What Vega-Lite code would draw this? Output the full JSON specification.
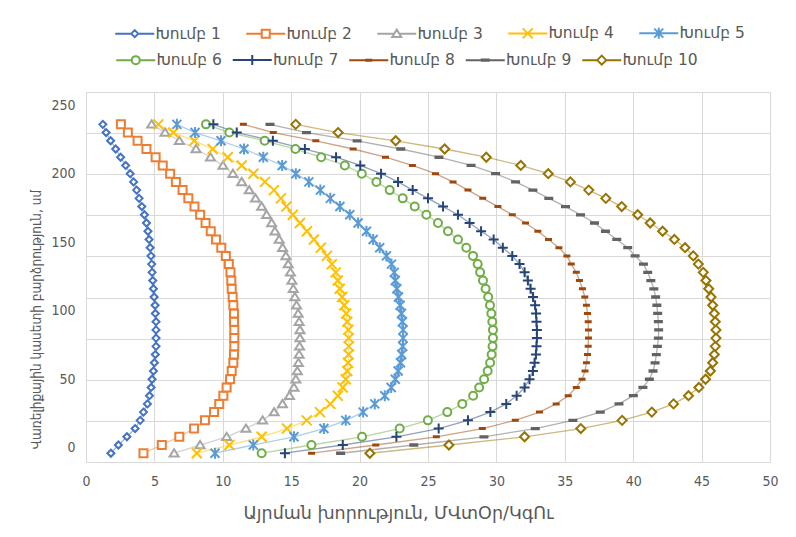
{
  "$schema": "https://vega.github.io/schema/vega-lite/v6.json",
  "width": 684,
  "height": 370,
  "autosize": {"type": "none"},
  "padding": {"left": 86, "top": 92, "right": 26, "bottom": 75},
  "background": "white",
  "config": {
    "view": {"stroke": null},
    "axis": {"labelColor": "#595959", "titleColor": "#595959", "gridColor": "#D9D9D9", "gridWidth": 1, "labelFont": "Liberation Sans Narrow, DejaVu Sans Condensed, sans-serif", "labelFontSize": 14, "titleFont": "DejaVu Sans, sans-serif", "titleFontWeight": "normal"}
  },
  "data": {"values": [
{"g":"Խումբ 1","d":-4,"x":1.82},{"g":"Խումբ 1","d":2,"x":2.37},{"g":"Խումբ 1","d":8,"x":2.99},{"g":"Խումբ 1","d":14,"x":3.59},{"g":"Խումբ 1","d":20,"x":3.96},{"g":"Խումբ 1","d":26,"x":4.2},{"g":"Խումբ 1","d":32,"x":4.49},{"g":"Խումբ 1","d":38,"x":4.64},{"g":"Խումբ 1","d":44,"x":4.76},{"g":"Խումբ 1","d":50,"x":4.83},{"g":"Խումբ 1","d":56,"x":4.93},{"g":"Խումբ 1","d":62,"x":5.0},{"g":"Խումբ 1","d":68,"x":5.07},{"g":"Խումբ 1","d":74,"x":5.12},{"g":"Խումբ 1","d":80,"x":5.12},{"g":"Խումբ 1","d":86,"x":5.12},{"g":"Խումբ 1","d":92,"x":5.12},{"g":"Խումբ 1","d":98,"x":5.07},{"g":"Խումբ 1","d":104,"x":5.05},{"g":"Խումբ 1","d":110,"x":4.98},{"g":"Խումբ 1","d":116,"x":4.93},{"g":"Խումբ 1","d":122,"x":4.88},{"g":"Խումբ 1","d":128,"x":4.83},{"g":"Խումբ 1","d":134,"x":4.8},{"g":"Խումբ 1","d":140,"x":4.75},{"g":"Խումբ 1","d":146,"x":4.69},{"g":"Խումբ 1","d":152,"x":4.61},{"g":"Խումբ 1","d":158,"x":4.53},{"g":"Խումբ 1","d":164,"x":4.42},{"g":"Խումբ 1","d":170,"x":4.27},{"g":"Խումբ 1","d":176,"x":4.08},{"g":"Խումբ 1","d":182,"x":3.88},{"g":"Խումբ 1","d":188,"x":3.7},{"g":"Խումբ 1","d":194,"x":3.48},{"g":"Խումբ 1","d":200,"x":3.23},{"g":"Խումբ 1","d":206,"x":2.9},{"g":"Խումբ 1","d":212,"x":2.53},{"g":"Խումբ 1","d":218,"x":2.17},{"g":"Խումբ 1","d":224,"x":1.8},{"g":"Խումբ 1","d":230,"x":1.47},{"g":"Խումբ 1","d":236,"x":1.23},
{"g":"Խումբ 2","d":-4,"x":4.2},{"g":"Խումբ 2","d":2,"x":5.54},{"g":"Խումբ 2","d":8,"x":6.82},{"g":"Խումբ 2","d":14,"x":7.9},{"g":"Խումբ 2","d":20,"x":8.7},{"g":"Խումբ 2","d":26,"x":9.36},{"g":"Խումբ 2","d":32,"x":9.74},{"g":"Խումբ 2","d":38,"x":10.04},{"g":"Խումբ 2","d":44,"x":10.28},{"g":"Խումբ 2","d":50,"x":10.53},{"g":"Խումբ 2","d":56,"x":10.65},{"g":"Խումբ 2","d":62,"x":10.77},{"g":"Խումբ 2","d":68,"x":10.82},{"g":"Խումբ 2","d":74,"x":10.84},{"g":"Խումբ 2","d":80,"x":10.84},{"g":"Խումբ 2","d":86,"x":10.84},{"g":"Խումբ 2","d":92,"x":10.82},{"g":"Խումբ 2","d":98,"x":10.82},{"g":"Խումբ 2","d":104,"x":10.77},{"g":"Խումբ 2","d":110,"x":10.72},{"g":"Խումբ 2","d":116,"x":10.65},{"g":"Խումբ 2","d":122,"x":10.62},{"g":"Խումբ 2","d":128,"x":10.56},{"g":"Խումբ 2","d":134,"x":10.44},{"g":"Խումբ 2","d":140,"x":10.22},{"g":"Խումբ 2","d":146,"x":9.89},{"g":"Խումբ 2","d":152,"x":9.5},{"g":"Խումբ 2","d":158,"x":9.12},{"g":"Խումբ 2","d":164,"x":8.74},{"g":"Խումբ 2","d":170,"x":8.34},{"g":"Խումբ 2","d":176,"x":7.93},{"g":"Խումբ 2","d":182,"x":7.48},{"g":"Խումբ 2","d":188,"x":7.06},{"g":"Խումբ 2","d":194,"x":6.57},{"g":"Խումբ 2","d":200,"x":6.15},{"g":"Խումբ 2","d":206,"x":5.61},{"g":"Խումբ 2","d":212,"x":5.09},{"g":"Խումբ 2","d":218,"x":4.42},{"g":"Խումբ 2","d":224,"x":3.77},{"g":"Խումբ 2","d":230,"x":3.06},{"g":"Խումբ 2","d":236,"x":2.55},
{"g":"Խումբ 3","d":-4,"x":6.44},{"g":"Խումբ 3","d":2,"x":8.34},{"g":"Խումբ 3","d":8,"x":10.28},{"g":"Խումբ 3","d":14,"x":11.69},{"g":"Խումբ 3","d":20,"x":12.91},{"g":"Խումբ 3","d":26,"x":13.75},{"g":"Խումբ 3","d":32,"x":14.36},{"g":"Խումբ 3","d":38,"x":14.87},{"g":"Խումբ 3","d":44,"x":15.2},{"g":"Խումբ 3","d":50,"x":15.34},{"g":"Խումբ 3","d":56,"x":15.45},{"g":"Խումբ 3","d":62,"x":15.53},{"g":"Խումբ 3","d":68,"x":15.58},{"g":"Խումբ 3","d":74,"x":15.61},{"g":"Խումբ 3","d":80,"x":15.64},{"g":"Խումբ 3","d":86,"x":15.64},{"g":"Խումբ 3","d":92,"x":15.58},{"g":"Խումբ 3","d":98,"x":15.51},{"g":"Խումբ 3","d":104,"x":15.39},{"g":"Խումբ 3","d":110,"x":15.27},{"g":"Խումբ 3","d":116,"x":15.15},{"g":"Խումբ 3","d":122,"x":15.05},{"g":"Խումբ 3","d":128,"x":14.94},{"g":"Խումբ 3","d":134,"x":14.78},{"g":"Խումբ 3","d":140,"x":14.61},{"g":"Խումբ 3","d":146,"x":14.37},{"g":"Խումբ 3","d":152,"x":14.12},{"g":"Խումբ 3","d":158,"x":13.81},{"g":"Խումբ 3","d":164,"x":13.57},{"g":"Խումբ 3","d":170,"x":13.2},{"g":"Խումբ 3","d":176,"x":12.84},{"g":"Խումբ 3","d":182,"x":12.39},{"g":"Խումբ 3","d":188,"x":11.93},{"g":"Խումբ 3","d":194,"x":11.38},{"g":"Խումբ 3","d":200,"x":10.74},{"g":"Խումբ 3","d":206,"x":10.01},{"g":"Խումբ 3","d":212,"x":9.1},{"g":"Խումբ 3","d":218,"x":8.04},{"g":"Խումբ 3","d":224,"x":6.82},{"g":"Խումբ 3","d":230,"x":5.78},{"g":"Խումբ 3","d":236,"x":4.8},
{"g":"Խումբ 4","d":-4,"x":8.1},{"g":"Խումբ 4","d":2,"x":10.48},{"g":"Խումբ 4","d":8,"x":12.84},{"g":"Խումբ 4","d":14,"x":14.69},{"g":"Խումբ 4","d":20,"x":16.13},{"g":"Խումբ 4","d":26,"x":17.1},{"g":"Խումբ 4","d":32,"x":17.86},{"g":"Խումբ 4","d":38,"x":18.41},{"g":"Խումբ 4","d":44,"x":18.77},{"g":"Խումբ 4","d":50,"x":18.99},{"g":"Խումբ 4","d":56,"x":19.1},{"g":"Խումբ 4","d":62,"x":19.16},{"g":"Խումբ 4","d":68,"x":19.2},{"g":"Խումբ 4","d":74,"x":19.21},{"g":"Խումբ 4","d":80,"x":19.21},{"g":"Խումբ 4","d":86,"x":19.18},{"g":"Խումբ 4","d":92,"x":19.1},{"g":"Խումբ 4","d":98,"x":19.02},{"g":"Խումբ 4","d":104,"x":18.88},{"g":"Խումբ 4","d":110,"x":18.72},{"g":"Խումբ 4","d":116,"x":18.55},{"g":"Խումբ 4","d":122,"x":18.41},{"g":"Խումբ 4","d":128,"x":18.26},{"g":"Խումբ 4","d":134,"x":17.97},{"g":"Խումբ 4","d":140,"x":17.61},{"g":"Խումբ 4","d":146,"x":17.17},{"g":"Խումբ 4","d":152,"x":16.66},{"g":"Խումբ 4","d":158,"x":16.15},{"g":"Խումբ 4","d":164,"x":15.64},{"g":"Խումբ 4","d":170,"x":15.12},{"g":"Խումբ 4","d":176,"x":14.65},{"g":"Խումբ 4","d":182,"x":14.25},{"g":"Խումբ 4","d":188,"x":13.74},{"g":"Խումբ 4","d":194,"x":13.08},{"g":"Խումբ 4","d":200,"x":12.24},{"g":"Խումբ 4","d":206,"x":11.38},{"g":"Խումբ 4","d":212,"x":10.36},{"g":"Խումբ 4","d":218,"x":9.26},{"g":"Խումբ 4","d":224,"x":7.92},{"g":"Խումբ 4","d":230,"x":6.39},{"g":"Խումբ 4","d":236,"x":5.29},
{"g":"Խումբ 5","d":-4,"x":9.43},{"g":"Խումբ 5","d":2,"x":12.23},{"g":"Խումբ 5","d":8,"x":15.2},{"g":"Խումբ 5","d":14,"x":17.39},{"g":"Խումբ 5","d":20,"x":18.99},{"g":"Խումբ 5","d":26,"x":20.26},{"g":"Խումբ 5","d":32,"x":21.11},{"g":"Խումբ 5","d":38,"x":21.84},{"g":"Խումբ 5","d":44,"x":22.31},{"g":"Խումբ 5","d":50,"x":22.61},{"g":"Խումբ 5","d":56,"x":22.82},{"g":"Խումբ 5","d":62,"x":22.99},{"g":"Խումբ 5","d":68,"x":23.08},{"g":"Խումբ 5","d":74,"x":23.15},{"g":"Խումբ 5","d":80,"x":23.18},{"g":"Խումբ 5","d":86,"x":23.18},{"g":"Խումբ 5","d":92,"x":23.13},{"g":"Խումբ 5","d":98,"x":23.06},{"g":"Խումբ 5","d":104,"x":22.96},{"g":"Խումբ 5","d":110,"x":22.84},{"g":"Խումբ 5","d":116,"x":22.72},{"g":"Խումբ 5","d":122,"x":22.61},{"g":"Խումբ 5","d":128,"x":22.53},{"g":"Խումբ 5","d":134,"x":22.33},{"g":"Խումբ 5","d":140,"x":21.96},{"g":"Խումբ 5","d":146,"x":21.47},{"g":"Խումբ 5","d":152,"x":20.99},{"g":"Խումբ 5","d":158,"x":20.5},{"g":"Խումբ 5","d":164,"x":19.89},{"g":"Խումբ 5","d":170,"x":19.28},{"g":"Խումբ 5","d":176,"x":18.56},{"g":"Խումբ 5","d":182,"x":17.86},{"g":"Խումբ 5","d":188,"x":17.13},{"g":"Խումբ 5","d":194,"x":16.29},{"g":"Խումբ 5","d":200,"x":15.34},{"g":"Խումբ 5","d":206,"x":14.34},{"g":"Խումբ 5","d":212,"x":12.96},{"g":"Խումբ 5","d":218,"x":11.55},{"g":"Խումբ 5","d":224,"x":9.87},{"g":"Խումբ 5","d":230,"x":7.97},{"g":"Խումբ 5","d":236,"x":6.64},
{"g":"Խումբ 6","d":-4,"x":12.84},{"g":"Խումբ 6","d":2,"x":16.48},{"g":"Խումբ 6","d":8,"x":20.18},{"g":"Խումբ 6","d":14,"x":22.93},{"g":"Խումբ 6","d":20,"x":24.99},{"g":"Խումբ 6","d":26,"x":26.41},{"g":"Խումբ 6","d":32,"x":27.51},{"g":"Խումբ 6","d":38,"x":28.3},{"g":"Խումբ 6","d":44,"x":28.74},{"g":"Խումբ 6","d":50,"x":29.1},{"g":"Խումբ 6","d":56,"x":29.36},{"g":"Խումբ 6","d":62,"x":29.54},{"g":"Խումբ 6","d":68,"x":29.65},{"g":"Խումբ 6","d":74,"x":29.72},{"g":"Խումբ 6","d":80,"x":29.75},{"g":"Խումբ 6","d":86,"x":29.75},{"g":"Խումբ 6","d":92,"x":29.7},{"g":"Խումբ 6","d":98,"x":29.63},{"g":"Խումբ 6","d":104,"x":29.53},{"g":"Խումբ 6","d":110,"x":29.4},{"g":"Խումբ 6","d":116,"x":29.21},{"g":"Խումբ 6","d":122,"x":29.02},{"g":"Խումբ 6","d":128,"x":28.81},{"g":"Խումբ 6","d":134,"x":28.63},{"g":"Խումբ 6","d":140,"x":28.29},{"g":"Խումբ 6","d":146,"x":27.8},{"g":"Խումբ 6","d":152,"x":27.19},{"g":"Խումբ 6","d":158,"x":26.46},{"g":"Խումբ 6","d":164,"x":25.73},{"g":"Խումբ 6","d":170,"x":24.88},{"g":"Խումբ 6","d":176,"x":24.03},{"g":"Խումբ 6","d":182,"x":23.15},{"g":"Խումբ 6","d":188,"x":22.2},{"g":"Խումբ 6","d":194,"x":21.23},{"g":"Խումբ 6","d":200,"x":20.16},{"g":"Խումբ 6","d":206,"x":18.92},{"g":"Խումբ 6","d":212,"x":17.19},{"g":"Խումբ 6","d":218,"x":15.31},{"g":"Խումբ 6","d":224,"x":13.06},{"g":"Խումբ 6","d":230,"x":10.48},{"g":"Խումբ 6","d":236,"x":8.77},
{"g":"Խումբ 7","d":-4,"x":14.54},{"g":"Խումբ 7","d":2,"x":18.77},{"g":"Խումբ 7","d":8,"x":22.69},{"g":"Խումբ 7","d":14,"x":25.78},{"g":"Խումբ 7","d":20,"x":27.92},{"g":"Խումբ 7","d":26,"x":29.56},{"g":"Խումբ 7","d":32,"x":30.72},{"g":"Խումբ 7","d":38,"x":31.48},{"g":"Խումբ 7","d":44,"x":32.06},{"g":"Խումբ 7","d":50,"x":32.42},{"g":"Խումբ 7","d":56,"x":32.67},{"g":"Խումբ 7","d":62,"x":32.79},{"g":"Խումբ 7","d":68,"x":32.89},{"g":"Խումբ 7","d":74,"x":32.93},{"g":"Խումբ 7","d":80,"x":32.96},{"g":"Խումբ 7","d":86,"x":32.96},{"g":"Խումբ 7","d":92,"x":32.93},{"g":"Խումբ 7","d":98,"x":32.9},{"g":"Խումբ 7","d":104,"x":32.83},{"g":"Խումբ 7","d":110,"x":32.68},{"g":"Խումբ 7","d":116,"x":32.5},{"g":"Խումբ 7","d":122,"x":32.3},{"g":"Խումբ 7","d":128,"x":32.06},{"g":"Խումբ 7","d":134,"x":31.69},{"g":"Խումբ 7","d":140,"x":31.16},{"g":"Խումբ 7","d":146,"x":30.47},{"g":"Խումբ 7","d":152,"x":29.8},{"g":"Խումբ 7","d":158,"x":28.88},{"g":"Խումբ 7","d":164,"x":28.04},{"g":"Խումբ 7","d":170,"x":27.19},{"g":"Խումբ 7","d":176,"x":26.1},{"g":"Խումբ 7","d":182,"x":25.0},{"g":"Խումբ 7","d":188,"x":23.88},{"g":"Խումբ 7","d":194,"x":22.81},{"g":"Խումբ 7","d":200,"x":21.57},{"g":"Խումբ 7","d":206,"x":20.05},{"g":"Խումբ 7","d":212,"x":18.28},{"g":"Խումբ 7","d":218,"x":16.0},{"g":"Խումբ 7","d":224,"x":13.66},{"g":"Խումբ 7","d":230,"x":11.02},{"g":"Խումբ 7","d":236,"x":9.31},
{"g":"Խումբ 8","d":-4,"x":16.49},{"g":"Խումբ 8","d":2,"x":21.18},{"g":"Խումբ 8","d":8,"x":25.61},{"g":"Խումբ 8","d":14,"x":28.97},{"g":"Խումբ 8","d":20,"x":31.38},{"g":"Խումբ 8","d":26,"x":33.15},{"g":"Խումբ 8","d":32,"x":34.37},{"g":"Խումբ 8","d":38,"x":35.25},{"g":"Խումբ 8","d":44,"x":35.84},{"g":"Խումբ 8","d":50,"x":36.26},{"g":"Խումբ 8","d":56,"x":36.48},{"g":"Խումբ 8","d":62,"x":36.58},{"g":"Խումբ 8","d":68,"x":36.66},{"g":"Խումբ 8","d":74,"x":36.71},{"g":"Խումբ 8","d":80,"x":36.73},{"g":"Խումբ 8","d":86,"x":36.73},{"g":"Խումբ 8","d":92,"x":36.71},{"g":"Խումբ 8","d":98,"x":36.66},{"g":"Խումբ 8","d":104,"x":36.58},{"g":"Խումբ 8","d":110,"x":36.46},{"g":"Խումբ 8","d":116,"x":36.29},{"g":"Խումբ 8","d":122,"x":36.07},{"g":"Խումբ 8","d":128,"x":35.84},{"g":"Խումբ 8","d":134,"x":35.47},{"g":"Խումբ 8","d":140,"x":35.15},{"g":"Խումբ 8","d":146,"x":34.57},{"g":"Խումբ 8","d":152,"x":33.81},{"g":"Խումբ 8","d":158,"x":33.03},{"g":"Խումբ 8","d":164,"x":32.13},{"g":"Խումբ 8","d":170,"x":31.16},{"g":"Խումբ 8","d":176,"x":30.11},{"g":"Խումբ 8","d":182,"x":29.0},{"g":"Խումբ 8","d":188,"x":27.92},{"g":"Խումբ 8","d":194,"x":26.83},{"g":"Խումբ 8","d":200,"x":25.55},{"g":"Խումբ 8","d":206,"x":23.86},{"g":"Խումբ 8","d":212,"x":21.89},{"g":"Խումբ 8","d":218,"x":19.53},{"g":"Խումբ 8","d":224,"x":16.8},{"g":"Խումբ 8","d":230,"x":13.69},{"g":"Խումբ 8","d":236,"x":11.5},
{"g":"Խումբ 9","d":-4,"x":18.61},{"g":"Խումբ 9","d":2,"x":23.96},{"g":"Խումբ 9","d":8,"x":29.09},{"g":"Խումբ 9","d":14,"x":32.84},{"g":"Խումբ 9","d":20,"x":35.59},{"g":"Խումբ 9","d":26,"x":37.59},{"g":"Խումբ 9","d":32,"x":38.96},{"g":"Խումբ 9","d":38,"x":40.01},{"g":"Խումբ 9","d":44,"x":40.71},{"g":"Խումբ 9","d":50,"x":41.18},{"g":"Խումբ 9","d":56,"x":41.45},{"g":"Խումբ 9","d":62,"x":41.6},{"g":"Խումբ 9","d":68,"x":41.69},{"g":"Խումբ 9","d":74,"x":41.77},{"g":"Խումբ 9","d":80,"x":41.84},{"g":"Խումբ 9","d":86,"x":41.86},{"g":"Խումբ 9","d":92,"x":41.84},{"g":"Խումբ 9","d":98,"x":41.79},{"g":"Խումբ 9","d":104,"x":41.73},{"g":"Խումբ 9","d":110,"x":41.64},{"g":"Խումբ 9","d":116,"x":41.51},{"g":"Խումբ 9","d":122,"x":41.29},{"g":"Խումբ 9","d":128,"x":41.06},{"g":"Խումբ 9","d":134,"x":40.75},{"g":"Խումբ 9","d":140,"x":40.14},{"g":"Խումբ 9","d":146,"x":39.6},{"g":"Խումբ 9","d":152,"x":38.8},{"g":"Խումբ 9","d":158,"x":37.97},{"g":"Խումբ 9","d":164,"x":37.17},{"g":"Խումբ 9","d":170,"x":36.15},{"g":"Խումբ 9","d":176,"x":35.05},{"g":"Խումբ 9","d":182,"x":33.83},{"g":"Խումբ 9","d":188,"x":32.67},{"g":"Խումբ 9","d":194,"x":31.4},{"g":"Խումբ 9","d":200,"x":29.94},{"g":"Խումբ 9","d":206,"x":28.15},{"g":"Խումբ 9","d":212,"x":25.8},{"g":"Խումբ 9","d":218,"x":23.01},{"g":"Խումբ 9","d":224,"x":19.82},{"g":"Խումբ 9","d":230,"x":16.12},{"g":"Խումբ 9","d":236,"x":13.45},
{"g":"Խումբ 10","d":-4,"x":20.75},{"g":"Խումբ 10","d":2,"x":26.53},{"g":"Խումբ 10","d":8,"x":32.06},{"g":"Խումբ 10","d":14,"x":36.17},{"g":"Խումբ 10","d":20,"x":39.19},{"g":"Խումբ 10","d":26,"x":41.36},{"g":"Խումբ 10","d":32,"x":42.95},{"g":"Խումբ 10","d":38,"x":44.04},{"g":"Խումբ 10","d":44,"x":44.8},{"g":"Խումբ 10","d":50,"x":45.29},{"g":"Խումբ 10","d":56,"x":45.64},{"g":"Խումբ 10","d":62,"x":45.81},{"g":"Խումբ 10","d":68,"x":45.93},{"g":"Խումբ 10","d":74,"x":46.0},{"g":"Խումբ 10","d":80,"x":46.05},{"g":"Խումբ 10","d":86,"x":46.05},{"g":"Խումբ 10","d":92,"x":46.0},{"g":"Խումբ 10","d":98,"x":45.93},{"g":"Խումբ 10","d":104,"x":45.81},{"g":"Խումբ 10","d":110,"x":45.69},{"g":"Խումբ 10","d":116,"x":45.52},{"g":"Խումբ 10","d":122,"x":45.32},{"g":"Խումբ 10","d":128,"x":45.12},{"g":"Խումբ 10","d":134,"x":44.76},{"g":"Խումբ 10","d":140,"x":44.39},{"g":"Խումբ 10","d":146,"x":43.79},{"g":"Խումբ 10","d":152,"x":43.01},{"g":"Խումբ 10","d":158,"x":42.15},{"g":"Խումբ 10","d":164,"x":41.24},{"g":"Խումբ 10","d":170,"x":40.33},{"g":"Խումբ 10","d":176,"x":39.16},{"g":"Խումբ 10","d":182,"x":38.0},{"g":"Խումբ 10","d":188,"x":36.75},{"g":"Խումբ 10","d":194,"x":35.41},{"g":"Խումբ 10","d":200,"x":33.79},{"g":"Խումբ 10","d":206,"x":31.78},{"g":"Խումբ 10","d":212,"x":29.26},{"g":"Խումբ 10","d":218,"x":26.22},{"g":"Խումբ 10","d":224,"x":22.64},{"g":"Խումբ 10","d":230,"x":18.43},{"g":"Խումբ 10","d":236,"x":15.33}
  ]},
  "layer": [
    {
      "mark": {"type": "line", "strokeWidth": 1.3, "opacity": 0.5},
      "encoding": {
        "x": {"field": "x", "type": "quantitative", "scale": {"domain": [0, 50], "nice": false, "zero": false},
              "axis": {"values": [0,5,10,15,20,25,30,35,40,45,50], "grid": true, "ticks": false, "domain": false, "labelPadding": 12, "labelFlush": false, "title": "Այրման խորություն, ՄՎտՕր/ԿգՈւ", "titleFontSize": 17.5, "titleX": 312, "titleY": 51, "titleBaseline": "middle", "titleAlign": "center"}},
        "y": {"field": "d", "type": "quantitative", "scale": {"domain": [-10.4, 259.6], "nice": false, "zero": false},
              "axis": {"orient": "left", "values": [0,50,100,150,200,250], "grid": false, "ticks": false, "domain": false, "labelPadding": 11, "title": "Վառելիքային կասետի բարձրություն, սմ", "titleFont": "DejaVu Sans Condensed, sans-serif", "titleFontSize": 13.5, "titleX": -50, "titleY": 227, "titleBaseline": "middle", "titleAlign": "center", "titleAngle": -90}},
        "stroke": {"field": "g", "type": "nominal",
                   "scale": {"domain": ["Խումբ 1","Խումբ 2","Խումբ 3","Խումբ 4","Խումբ 5","Խումբ 6","Խումբ 7","Խումբ 8","Խումբ 9","Խումբ 10"],
                             "range": ["#4472C4","#ED7D31","#A5A5A5","#FFC000","#5B9BD5","#70AD47","#264478","#9E480E","#636363","#997300"]},
                   "legend": null},
        "order": {"field": "d", "type": "quantitative"}
      }
    },
    {
      "mark": {"type": "point", "filled": true, "fill": "white", "strokeWidth": 2, "size": 100, "opacity": 1},
      "encoding": {
        "x": {"field": "x", "type": "quantitative"},
        "y": {"field": "d", "type": "quantitative",
              "axis": {"orient": "right", "values": [-10.4, 19.6, 49.6, 79.6, 109.6, 139.6, 169.6, 199.6, 229.6, 259.6], "grid": true, "labels": false, "ticks": false, "domain": false, "title": null}},
        "stroke": {"field": "g", "type": "nominal",
                   "scale": {"domain": ["Խումբ 1","Խումբ 2","Խումբ 3","Խումբ 4","Խումբ 5","Խումբ 6","Խումբ 7","Խումբ 8","Խումբ 9","Խումբ 10"],
                             "range": ["#4472C4","#ED7D31","#A5A5A5","#FFC000","#5B9BD5","#70AD47","#264478","#9E480E","#636363","#997300"]},
                   "legend": null},
        "shape": {"field": "g", "type": "nominal",
                  "scale": {"domain": ["Խումբ 1","Խումբ 2","Խումբ 3","Խումբ 4","Խումբ 5","Խումբ 6","Խումբ 7","Խումբ 8","Խումբ 9","Խումբ 10"],
                            "range": ["M-0.7,0L0,-0.7L0.7,0L0,0.7Z",
                                      "M-0.8,-0.8L0.8,-0.8L0.8,0.8L-0.8,0.8Z",
                                      "M0,-0.8L0.9,0.65L-0.9,0.65Z",
                                      "M-1,-1L1,1M-1,1L1,-1",
                                      "M-0.9,-0.9L0.9,0.9M-0.9,0.9L0.9,-0.9M0,-1.1L0,1.1",
                                      "M0.8,0A0.8,0.8,0,1,1,-0.8,0A0.8,0.8,0,1,1,0.8,0Z",
                                      "M-1,0L1,0M0,-1L0,1",
                                      "M-0.7,-0.1L0.7,-0.1M-0.7,0.1L0.7,0.1",
                                      "M-0.9,-0.13L0.9,-0.13M-0.9,0.13L0.9,0.13",
                                      "M-0.9,0L0,-0.9L0.9,0L0,0.9Z"]},
                  "legend": null}
      }
    },
    {
      "transform": [{"filter": "false"}],
      "mark": {"type": "point", "filled": true, "fill": "white", "strokeWidth": 2, "size": 100, "opacity": 1},
      "encoding": {
        "stroke": {"field": "g", "type": "nominal",
                   "scale": {"domain": ["Խումբ 1","Խումբ 2","Խումբ 3","Խումբ 4","Խումբ 5"],
                             "range": ["#4472C4","#ED7D31","#A5A5A5","#FFC000","#5B9BD5"]},
                   "legend": {"orient": "none", "legendX": 26, "legendY": -67, "direction": "horizontal", "columns": 5, "title": null, "symbolSize": 100, "symbolStrokeWidth": 2, "symbolOffset": 15, "labelOffset": 13, "labelFont": "DejaVu Sans", "labelFontSize": 15.5, "labelColor": "#595959", "columnPadding": 21, "padding": 0, "symbolOpacity": 1, "labelLimit": 300}},
        "shape": {"field": "g", "type": "nominal",
                  "scale": {"domain": ["Խումբ 1","Խումբ 2","Խումբ 3","Խումբ 4","Խումբ 5"],
                            "range": ["M-3.9,0L-0.7,0M0.7,0L3.9,0M-0.7,0L0,-0.7L0.7,0L0,0.7Z",
                                      "M-3.9,0L-0.8,0M0.8,0L3.9,0M-0.8,-0.8L0.8,-0.8L0.8,0.8L-0.8,0.8Z",
                                      "M-3.9,0L-0.5,0M0.5,0L3.9,0M0,-0.8L0.9,0.65L-0.9,0.65Z",
                                      "M-3.9,0L3.9,0M-1,-1L1,1M-1,1L1,-1",
                                      "M-3.9,0L3.9,0M-0.9,-0.9L0.9,0.9M-0.9,0.9L0.9,-0.9M0,-1.1L0,1.1"]},
                  "legend": {"orient": "none", "legendX": 26, "legendY": -67, "direction": "horizontal", "columns": 5, "title": null, "symbolSize": 100, "symbolStrokeWidth": 2, "symbolOffset": 15, "labelOffset": 13, "labelFont": "DejaVu Sans", "labelFontSize": 15.5, "labelColor": "#595959", "columnPadding": 21, "padding": 0, "symbolOpacity": 1, "labelLimit": 300}}
      }
    },
    {
      "transform": [{"filter": "false"}],
      "mark": {"type": "point", "filled": true, "fill": "white", "strokeWidth": 2, "size": 100, "opacity": 1},
      "encoding": {
        "stroke": {"field": "g", "type": "nominal",
                   "scale": {"domain": ["Խումբ 6","Խումբ 7","Խումբ 8","Խումբ 9","Խումբ 10"],
                             "range": ["#70AD47","#264478","#9E480E","#636363","#997300"]},
                   "legend": {"orient": "none", "legendX": 27, "legendY": -40, "direction": "horizontal", "columns": 5, "title": null, "symbolSize": 100, "symbolStrokeWidth": 2, "symbolOffset": 15, "labelOffset": 13, "labelFont": "DejaVu Sans", "labelFontSize": 15.5, "labelColor": "#595959", "columnPadding": 6.5, "padding": 0, "symbolOpacity": 1, "labelLimit": 300}},
        "shape": {"field": "g", "type": "nominal",
                  "scale": {"domain": ["Խումբ 6","Խումբ 7","Խումբ 8","Խումբ 9","Խումբ 10"],
                            "range": ["M-3.9,0L-0.8,0M0.8,0L3.9,0M0.8,0A0.8,0.8,0,1,1,-0.8,0A0.8,0.8,0,1,1,0.8,0Z",
                                      "M-3.9,0L3.9,0M0,-1L0,1",
                                      "M-3.9,0L3.9,0M-0.7,-0.1L0.7,-0.1M-0.7,0.1L0.7,0.1",
                                      "M-3.9,0L3.9,0M-0.9,-0.13L0.9,-0.13M-0.9,0.13L0.9,0.13",
                                      "M-3.9,0L-0.9,0M0.9,0L3.9,0M-0.9,0L0,-0.9L0.9,0L0,0.9Z"]},
                  "legend": {"orient": "none", "legendX": 27, "legendY": -40, "direction": "horizontal", "columns": 5, "title": null, "symbolSize": 100, "symbolStrokeWidth": 2, "symbolOffset": 15, "labelOffset": 13, "labelFont": "DejaVu Sans", "labelFontSize": 15.5, "labelColor": "#595959", "columnPadding": 6.5, "padding": 0, "symbolOpacity": 1, "labelLimit": 300}}
      }
    }
  ],
  "resolve": {"scale": {"stroke": "independent", "shape": "independent"}, "axis": {"y": "independent"}}
}
